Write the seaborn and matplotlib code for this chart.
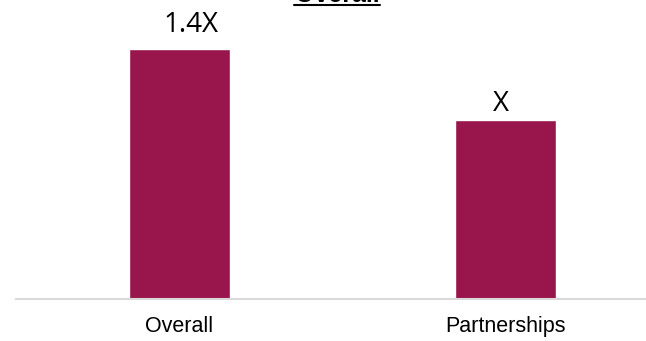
import matplotlib
matplotlib.use("Agg")
import matplotlib.pyplot as plt
import seaborn as sns
import pandas as pd
from matplotlib.lines import Line2D

categories = ["Overall", "Partnerships"]
values = [1.4, 1.0]
value_labels = ["1.4X", "X"]

sns.set_theme(style="white")
plt.rcParams["font.family"] = ["Liberation Sans", "DejaVu Sans"]

df = pd.DataFrame({"category": categories, "value": values})

W, H = 646, 341
fig = plt.figure(figsize=(W / 100, H / 100), dpi=100)
ax = fig.add_axes([16 / W, 42 / H, 630 / W, 299 / H])

sns.barplot(data=df, x="category", y="value", color="#99164D",
            saturation=1, width=0.31, ax=ax)

ax.set_xlim(-0.5015, 1.431)
ax.set_ylim(0, 1.674)

# value labels above the bars
label_offsets = [(8, 7.5), (-3, 2)]
for i, (v, lab) in enumerate(zip(values, value_labels)):
    ax.annotate(lab, xy=(i, v), xytext=label_offsets[i], textcoords="offset points",
                ha="center", va="bottom", fontsize=20, family="Open Sans",
                color="#000000")

ax.set_xlabel("")
ax.set_ylabel("")
ax.set_yticks([])
ax.tick_params(axis="x", length=0, pad=12, labelsize=15.5, colors="#000000")
for s in ["top", "right", "left"]:
    ax.spines[s].set_visible(False)
ax.spines["bottom"].set_color("#d9d9d9")
ax.spines["bottom"].set_linewidth(1.5)

# underlined title at the top edge
fig.text(337 / W, 1 - 2 / H, "Overall", ha="center", va="baseline",
         fontsize=18, fontweight="bold", color="#000000")
fig.add_artist(Line2D([294 / W, 380 / W], [1 - 5 / H, 1 - 5 / H],
                      color="#000000", linewidth=1.5, transform=fig.transFigure))

fig.savefig("out.png", dpi=100)
